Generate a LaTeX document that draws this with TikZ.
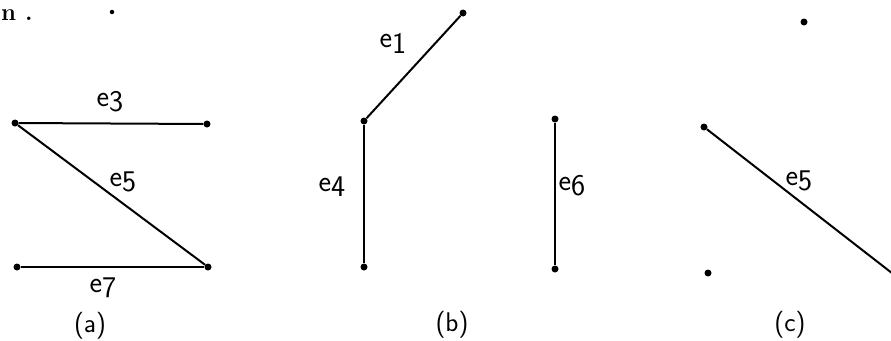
\documentclass[tikz,border=0pt]{standalone}
\usepackage{tikz}
\usetikzlibrary{positioning}

\begin{document}
\begin{tikzpicture}[x=1pt,y=-1pt,
    vert/.style={circle,fill=black,inner sep=0pt,minimum size=7pt},
    edge/.style={line width=2pt},
    elab/.style={font=\fontsize{30}{32}\selectfont\sffamily,inner sep=0pt},
    subcap/.style={font=\fontsize{27}{30}\selectfont\sffamily,inner sep=0pt}]
  \useasboundingbox (0,0) rectangle (891,340);
  \def\ename#1{e\raisebox{-0.4ex}{#1}}
  % text left over from the page
  \node[anchor=base west,font=\fontsize{24}{26}\selectfont\bfseries,inner sep=0pt] (tail) at (1,20) {n .};
  \node[vert,minimum size=4.5pt] (spot) at (112,12) {};
  % (a)
  \node[vert] (a1) at (15,123) {};
  \node[vert] (a2) at (207,124) {};
  \node[vert] (a3) at (17,267) {};
  \node[vert] (a4) at (208,267) {};
  \draw[edge] (a1) -- (a2);
  \draw[edge] (a1) -- (a4);
  \draw[edge] (a3) -- (a4);
  \node[elab] (e3a) at (110,102) {\ename{3}};
  \node[elab] (e5a) at (123,182) {\ename{5}};
  \node[elab] (e7a) at (103,288) {\ename{7}};
  \node[subcap] (capa) at (90,326) {(a)};
  % (b)
  \node[vert] (b1) at (463,13) {};
  \node[vert] (b2) at (364,121) {};
  \node[vert] (b3) at (364,267) {};
  \node[vert] (b4) at (555,119) {};
  \node[vert] (b5) at (555,269) {};
  \draw[edge] (b2) -- (b1);
  \draw[edge] (b2) -- (b3);
  \draw[edge] (b4) -- (b5);
  \node[elab] (e1b) at (393,43) {\ename{1}};
  \node[elab] (e4b) at (332,187) {\ename{4}};
  \node[elab] (e6b) at (572,186) {\ename{6}};
  \node[subcap] (capb) at (452,325) {(b)};
  % (c)
  \node[vert] (c1) at (804,22) {};
  \node[vert] (c2) at (704,127) {};
  \node[vert] (c3) at (708,273) {};
  \node[vert] (c4) at (897,277) {};
  \draw[edge] (c2) -- (c4);
  \node[elab] (e5c) at (799,181) {\ename{5}};
  \node[subcap] (capc) at (790,325) {(c)};
\end{tikzpicture}
\end{document}
